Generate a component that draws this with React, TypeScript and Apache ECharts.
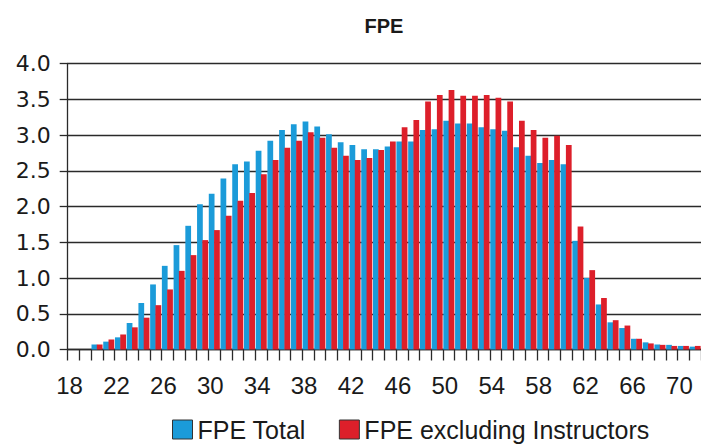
import React, { useEffect, useRef } from "react";
import * as echarts from "echarts";

const ages: string[] = [
  "18", "19", "20", "21", "22", "23", "24", "25", "26", "27", "28", "29",
  "30", "31", "32", "33", "34", "35", "36", "37", "38", "39", "40", "41",
  "42", "43", "44", "45", "46", "47", "48", "49", "50", "51", "52", "53",
  "54", "55", "56", "57", "58", "59", "60", "61", "62", "63", "64", "65",
  "66", "67", "68", "69", "70", "71",
];

const fpeTotal: number[] = [
  0, 0, 0.07, 0.11, 0.17, 0.37, 0.65, 0.91, 1.17, 1.46, 1.73, 2.03,
  2.18, 2.39, 2.59, 2.63, 2.78, 2.92, 3.07, 3.15, 3.19, 3.12, 3.01, 2.9,
  2.86, 2.8, 2.8, 2.84, 2.91, 2.91, 3.07, 3.08, 3.2, 3.16, 3.16, 3.11,
  3.08, 3.06, 2.83, 2.71, 2.61, 2.65, 2.59, 1.52, 1.0, 0.63, 0.38, 0.3,
  0.15, 0.1, 0.07, 0.065, 0.05, 0.04,
];

const fpeExclInstructors: number[] = [
  0, 0, 0.07, 0.14, 0.21, 0.31, 0.445, 0.62, 0.84, 1.1, 1.32, 1.53,
  1.67, 1.87, 2.08, 2.19, 2.45, 2.65, 2.82, 2.92, 3.04, 2.96, 2.82, 2.71,
  2.65, 2.68, 2.79, 2.91, 3.11, 3.21, 3.47, 3.56, 3.63, 3.55, 3.55, 3.56,
  3.52, 3.47, 3.2, 3.07, 2.96, 2.99, 2.86, 1.72, 1.11, 0.72, 0.41, 0.335,
  0.15, 0.085, 0.065, 0.05, 0.05, 0.05,
];

const seriesNames: string[] = ["FPE Total", "FPE excluding Instructors"];
const titleText = "FPE";

const BLUE = "#1b9bd9";
const RED = "#dd1f2a";
const SANS = "'Liberation Sans', Arial, sans-serif";

export default function App() {
  const ref = useRef<HTMLDivElement>(null);

  useEffect(() => {
    if (!ref.current) return;
    const chart = echarts.init(ref.current, undefined, { renderer: "svg" });
    chart.setOption({
      animation: false,
      backgroundColor: "#ffffff",
      title: {
        text: titleText,
        left: 384,
        top: 16,
        padding: 0,
        textAlign: "center",
        textStyle: {
          fontFamily: SANS,
          fontSize: 20,
          fontWeight: "bold",
          color: "#1a1a1a",
        },
      },
      legend: {
        left: 172,
        top: 417,
        padding: 0,
        itemWidth: 20,
        itemHeight: 19,
        itemGap: 33,
        icon: "rect",
        data: seriesNames,
        itemStyle: { borderColor: "#333333", borderWidth: 1 },
        textStyle: {
          fontFamily: SANS,
          fontSize: 25,
          lineHeight: 25,
          color: "#1a1a1a",
        },
      },
      grid: {
        left: 67.7,
        right: 0,
        top: 63.5,
        bottom: 94.5,
      },
      xAxis: {
        type: "category",
        data: ages,
        boundaryGap: true,
        axisLine: { show: true, lineStyle: { color: "#2a2a2a", width: 1.3 } },
        axisTick: {
          show: true,
          interval: 0,
          alignWithLabel: false,
          length: 11,
          lineStyle: { color: "#2a2a2a", width: 1.3 },
        },
        axisLabel: {
          interval: 3,
          margin: 24,
          formatter: (v: string) => `{a|${v}}`,
          rich: {
            a: {
              fontFamily: SANS,
              fontSize: 24,
              color: "#1a1a1a",
              padding: [0, 8, 0, 0],
            },
          },
        },
        splitLine: { show: false },
      },
      yAxis: {
        type: "value",
        min: 0,
        max: 4,
        interval: 0.5,
        axisLine: { show: true, lineStyle: { color: "#2a2a2a", width: 1.3 } },
        axisTick: { show: true, length: 8, lineStyle: { color: "#2a2a2a", width: 1.3 } },
        axisLabel: {
          margin: 17,
          formatter: (v: number) => v.toFixed(1),
          fontFamily: "'DejaVu Sans', sans-serif",
          fontSize: 22,
          color: "#1a1a1a",
        },
        splitLine: { show: true, lineStyle: { color: "#2a2a2a", width: 1.3 } },
      },
      series: [
        {
          name: seriesNames[0],
          type: "bar",
          data: fpeTotal,
          barCategoryGap: "6%",
          barGap: "-8%",
          itemStyle: { color: BLUE },
          emphasis: { disabled: true },
        },
        {
          name: seriesNames[1],
          type: "bar",
          data: fpeExclInstructors,
          barCategoryGap: "6%",
          barGap: "-8%",
          itemStyle: { color: RED },
          emphasis: { disabled: true },
        },
      ],
    });
    return () => chart.dispose();
  }, []);

  return (
    <div
      ref={ref}
      style={{ position: "absolute", left: 0, top: 0, width: 701, height: 444 }}
    />
  );
}
